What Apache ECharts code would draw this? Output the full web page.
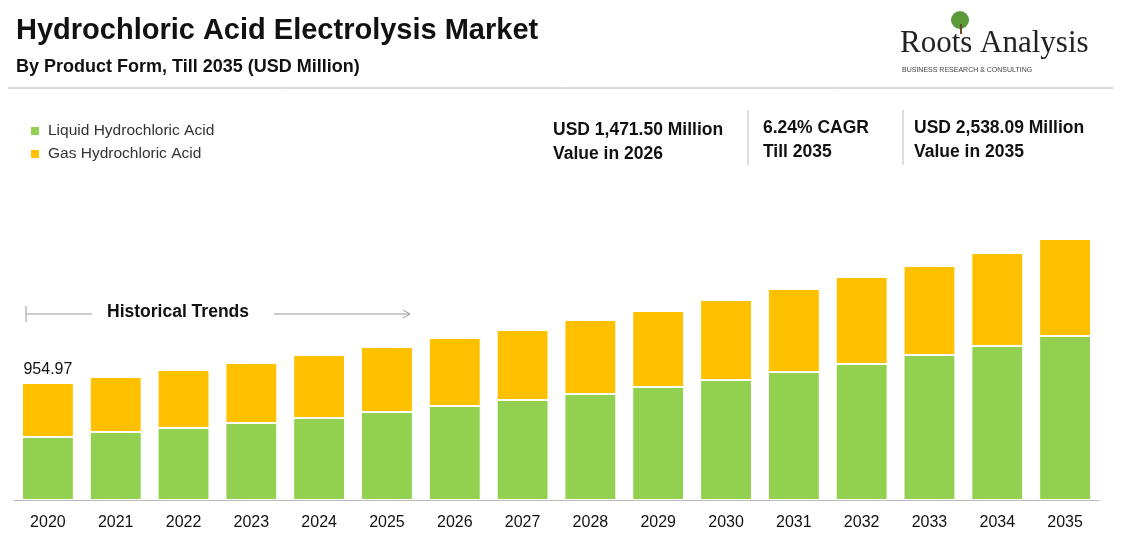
<!DOCTYPE html><html><head><meta charset="utf-8"><script src="https://cdn.jsdelivr.net/npm/echarts@6/dist/echarts.min.js"></script>
<style>body{margin:0;background:#fff}#c{width:1123px;height:553px}</style></head><body><div id="c"></div><script>
const categories=['2020','2021','2022','2023','2024','2025','2026','2027','2028','2029','2030','2031','2032','2033','2034','2035'];
const liquid=[514,555,588,628,669,718,767,816,865,922,979,1044,1110,1183,1257,1338];
const gas=[441,449,473,490,514,531,555,571,604,620,653,678,710,726,759,792];
const firstLabel='954.97';
const ch=echarts.init(document.getElementById('c'));
const F='Arial, Liberation Sans, sans-serif';
ch.setOption({
animation:false,
grid:{left:14,right:24,top:100,bottom:53},
legend:{left:24,top:118,orient:'vertical',itemWidth:10,itemHeight:10,itemGap:7,icon:'rect',textStyle:{fontFamily:F,fontSize:15.5,color:'#333',padding:[0,0,0,3]},data:['Liquid Hydrochloric Acid','Gas Hydrochloric Acid']},
xAxis:{type:'category',data:categories,axisTick:{show:false},axisLine:{lineStyle:{color:'#bbb'}},axisLabel:{fontFamily:F,fontSize:16,color:'#111',margin:15}},
yAxis:{type:'value',min:0,max:3264,show:false},
series:[
{name:'Liquid Hydrochloric Acid',type:'bar',stack:'a',data:liquid,barCategoryGap:'23.5%',itemStyle:{color:'#92d050',borderColor:'#fff',borderWidth:1}},
{name:'Gas Hydrochloric Acid',type:'bar',stack:'a',data:gas,itemStyle:{color:'#ffc000',borderColor:'#fff',borderWidth:1},
 label:{show:true,position:'top',fontFamily:F,fontSize:16,color:'#111',formatter:p=>p.dataIndex===0?firstLabel:''}}
],
graphic:[
{type:'text',left:16,top:16,style:{text:'Hydrochloric Acid Electrolysis Market',font:'bold 29px Arial, Liberation Sans',fill:'#111'}},
{type:'text',left:16,top:58,style:{text:'By Product Form, Till 2035 (USD Million)',font:'bold 18px Arial, Liberation Sans',fill:'#111'}},
{type:'text',left:900,top:28,style:{text:'Roots Analysis',font:'31px Liberation Serif, serif',fill:'#222'}},
{type:'text',left:902,top:67,style:{text:'BUSINESS RESEARCH & CONSULTING',font:'7px Arial',fill:'#444',letterSpacing:1.3}},
{type:'circle',shape:{cx:960,cy:20,r:9},style:{fill:'#5a9a3a'}},
{type:'rect',shape:{x:960,y:24,width:2,height:10},style:{fill:'#6b4a2a'}},
{type:'rect',shape:{x:8,y:88,width:1105,height:0},style:{stroke:'#ccc',lineWidth:1}},
{type:'text',left:553,top:118,style:{text:'USD 1,471.50 Million\nValue in 2026',font:'bold 17.5px Arial, Liberation Sans',fill:'#111',lineHeight:24}},
{type:'text',left:763,top:116,style:{text:'6.24% CAGR\nTill 2035',font:'bold 17.5px Arial, Liberation Sans',fill:'#111',lineHeight:24}},
{type:'text',left:914,top:116,style:{text:'USD 2,538.09 Million\nValue in 2035',font:'bold 17.5px Arial, Liberation Sans',fill:'#111',lineHeight:24}},
{type:'line',shape:{x1:748,y1:110,x2:748,y2:165},style:{stroke:'#bbb'}},
{type:'line',shape:{x1:903,y1:110,x2:903,y2:165},style:{stroke:'#bbb'}},
{type:'line',shape:{x1:26,y1:314,x2:92,y2:314},style:{stroke:'#999'}},
{type:'line',shape:{x1:26,y1:306,x2:26,y2:322},style:{stroke:'#999'}},
{type:'text',left:107,top:303,style:{text:'Historical Trends',font:'bold 17.5px Arial, Liberation Sans',fill:'#111'}},
{type:'line',shape:{x1:274,y1:314,x2:410,y2:314},style:{stroke:'#999'}},
{type:'polyline',shape:{points:[[403,310],[410,314],[403,318]]},style:{stroke:'#999',fill:null}}
]
});
</script></body></html>
